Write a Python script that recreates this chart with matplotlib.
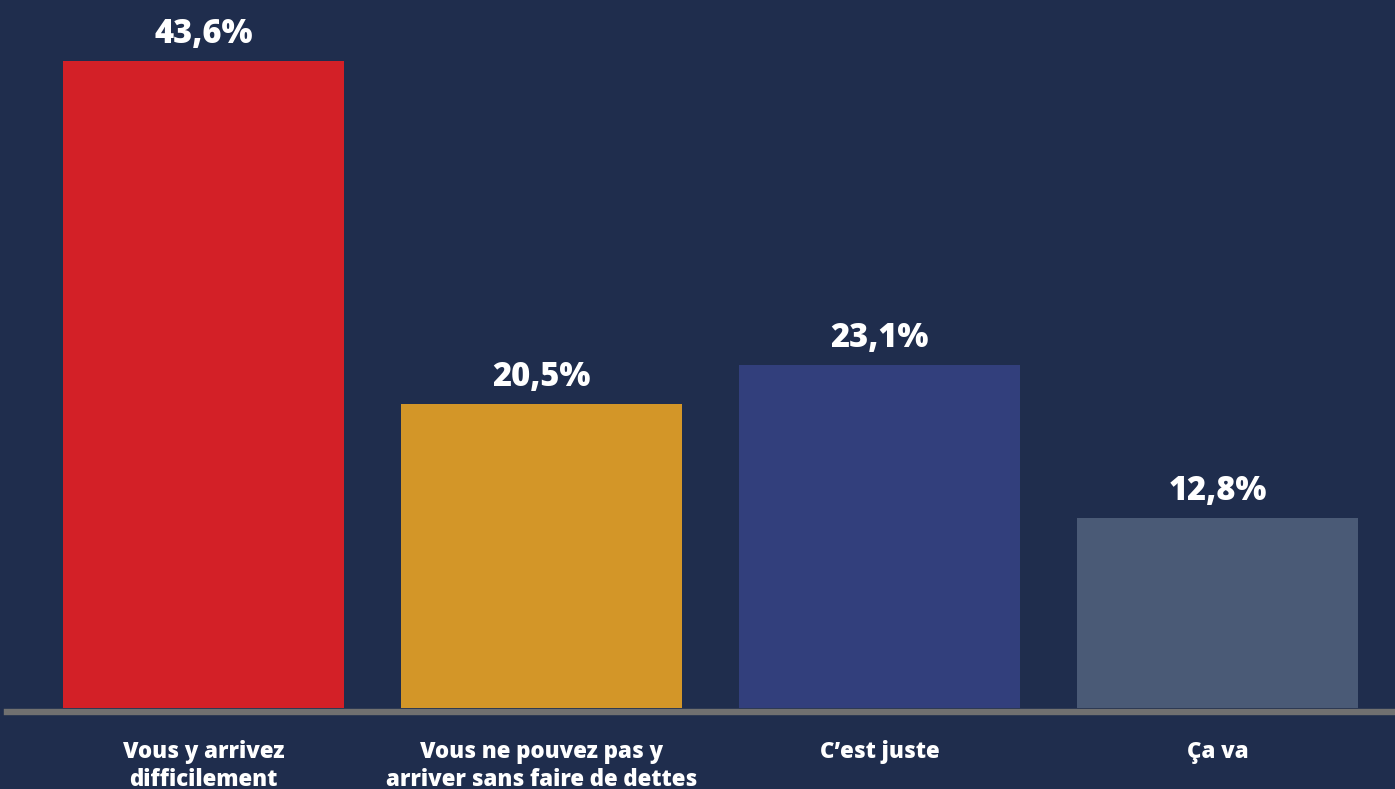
"""
Répartition des réponses : difficulté à boucler le budget.
Diagramme en barres avec étiquettes de pourcentage.
"""

import numpy as np
import matplotlib.pyplot as plt

# ---------------------------------------------------------------------
# Données
# ---------------------------------------------------------------------
categories = [
    "Vous y arrivez\ndifficilement",
    "Vous ne pouvez pas y\narriver sans faire de dettes",
    "C\u2019est juste",
    "\u00c7a va",
]
values = [43.6, 20.5, 23.1, 12.8]
value_labels = ["43,6%", "20,5%", "23,1%", "12,8%"]
colors = ["#d32027", "#d39628", "#323f7c", "#4a5a76"]

bg = "#1f2d4d"
plt.rcParams["font.family"] = ["Open Sans", "DejaVu Sans"]

# ---------------------------------------------------------------------
# Figure
# ---------------------------------------------------------------------
W, H = 1395, 789
fig = plt.figure(figsize=(W / 100, H / 100), dpi=100, facecolor=bg)

# axes de x=7 px jusqu'au bord droit, base des barres à y=708 px
left, bottom_px = 7, 708
ax = fig.add_axes([left / W, 1 - bottom_px / H, 1 - left / W, bottom_px / H])
ax.set_facecolor(bg)

step_px = 338.0
first_center = 203.5 - left
x = np.arange(len(values))
ax.set_xlim(-first_center / step_px, (W - left - first_center) / step_px)
ax.set_ylim(0, 43.6 * bottom_px / (bottom_px - 61))

ax.bar(x, values, width=281 / step_px, color=colors, zorder=2)

for xi, v, lab in zip(x, values, value_labels):
    ax.annotate(lab, (xi, v), xytext=(0, 13), textcoords="offset points",
                ha="center", va="baseline", color="white",
                fontsize=23.5, fontweight="heavy")

for xi, cat in zip(x, categories):
    ax.annotate(cat, (xi, 0), xytext=(0, -23), textcoords="offset points",
                ha="center", va="top", color="white",
                fontsize=16, fontweight="heavy", linespacing=1.25)

# ligne de base grise
for side in ["top", "right", "left"]:
    ax.spines[side].set_visible(False)
ax.spines["bottom"].set_color("#707070")
ax.spines["bottom"].set_linewidth(4.6)
ax.spines["bottom"].set_position(("outward", 3))
ax.set_xticks([])
ax.set_yticks([])

fig.savefig("out.png", dpi=100, facecolor=bg)
